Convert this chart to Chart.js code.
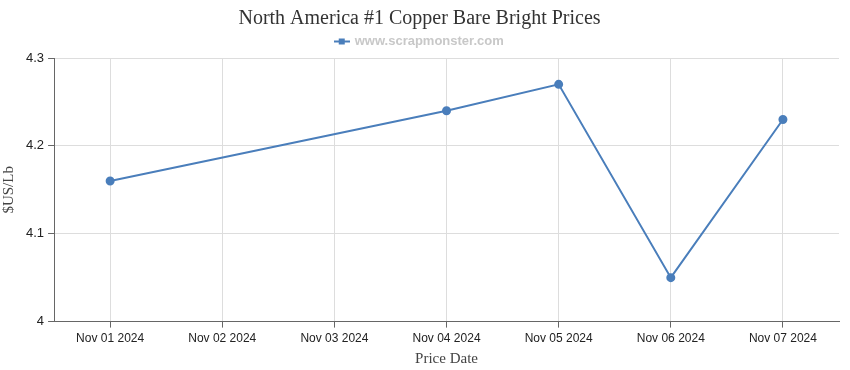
<!DOCTYPE html>
<html>
<head>
<meta charset="utf-8">
<script src="https://cdn.jsdelivr.net/npm/chart.js@4.4.0/dist/chart.umd.min.js"></script>
<style>
  html, body { margin: 0; padding: 0; background: #fff; }
  #wrap { width: 850px; height: 370px; position: relative; }
</style>
</head>
<body>
<div id="wrap"><canvas id="priceChart"></canvas></div>
<script>
// data
const dates = ['Nov 01 2024', 'Nov 02 2024', 'Nov 03 2024', 'Nov 04 2024', 'Nov 05 2024', 'Nov 06 2024', 'Nov 07 2024'];
const prices = [4.16, null, null, 4.24, 4.27, 4.05, 4.23];
const yTicks = [4, 4.1, 4.2, 4.3];

const lineColor = '#4a7ebb';

// legend symbol: short line with a square in the middle
const legendIcon = document.createElement('canvas');
legendIcon.width = 16;
legendIcon.height = 8;
const ic = legendIcon.getContext('2d');
ic.fillStyle = lineColor;
ic.fillRect(0, 3, 16, 2);
ic.fillRect(5, 1, 6, 6);

const ctx = document.getElementById('priceChart').getContext('2d');
new Chart(ctx, {
    type: 'line',
    data: {
        labels: dates,
        datasets: [{
            label: 'www.scrapmonster.com',
            data: prices,
            borderColor: lineColor,
            backgroundColor: lineColor,
            borderWidth: 2,
            pointRadius: 3.5,
            pointHoverRadius: 5,
            pointStyle: 'circle',
            spanGaps: true,
            tension: 0
        }]
    },
    options: {
        responsive: true,
        maintainAspectRatio: false,
        animation: false,
        layout: { padding: { left: 0, right: 11, top: 4, bottom: 2 } },
        plugins: {
            title: {
                display: true,
                text: 'North America #1 Copper Bare Bright Prices',
                color: '#333',
                font: { family: 'Liberation Serif', size: 20, weight: 'normal' },
                padding: { top: 3, bottom: 0 }
            },
            legend: {
                display: true,
                labels: {
                    usePointStyle: true,
                    pointStyle: legendIcon,
                    color: '#c8c8c8',
                    font: { family: 'Liberation Sans', size: 13, weight: 'bold' },
                    padding: 4,
                    boxWidth: 16
                }
            },
            tooltip: { enabled: true }
        },
        scales: {
            x: {
                offset: true,
                grid: { color: '#dddddd', offset: false, tickLength: 6, tickColor: '#666' },
                border: { color: '#666', width: 1 },
                ticks: {
                    color: '#222',
                    font: { family: 'Liberation Sans', size: 12 },
                    maxRotation: 0,
                    autoSkip: false,
                    padding: 4
                },
                title: {
                    display: true,
                    text: 'Price Date',
                    color: '#444',
                    font: { family: 'Liberation Serif', size: 15 },
                    padding: { top: 0, bottom: 0 }
                }
            },
            y: {
                min: yTicks[0],
                max: yTicks[yTicks.length - 1],
                afterBuildTicks: axis => {
                    axis.ticks = yTicks.map(v => ({ value: v }));
                },
                grid: { color: '#dddddd', tickLength: 6, tickColor: '#666' },
                border: { color: '#666', width: 1 },
                ticks: {
                    color: '#222',
                    font: { family: 'Liberation Sans', size: 13 },
                    padding: 4,
                    callback: v => String(Math.round(v * 10) / 10)
                },
                title: {
                    display: true,
                    text: '$US/Lb',
                    color: '#444',
                    font: { family: 'Liberation Serif', size: 15 },
                    padding: { top: 0, bottom: 4 }
                }
            }
        }
    }
});
</script>
</body>
</html>
